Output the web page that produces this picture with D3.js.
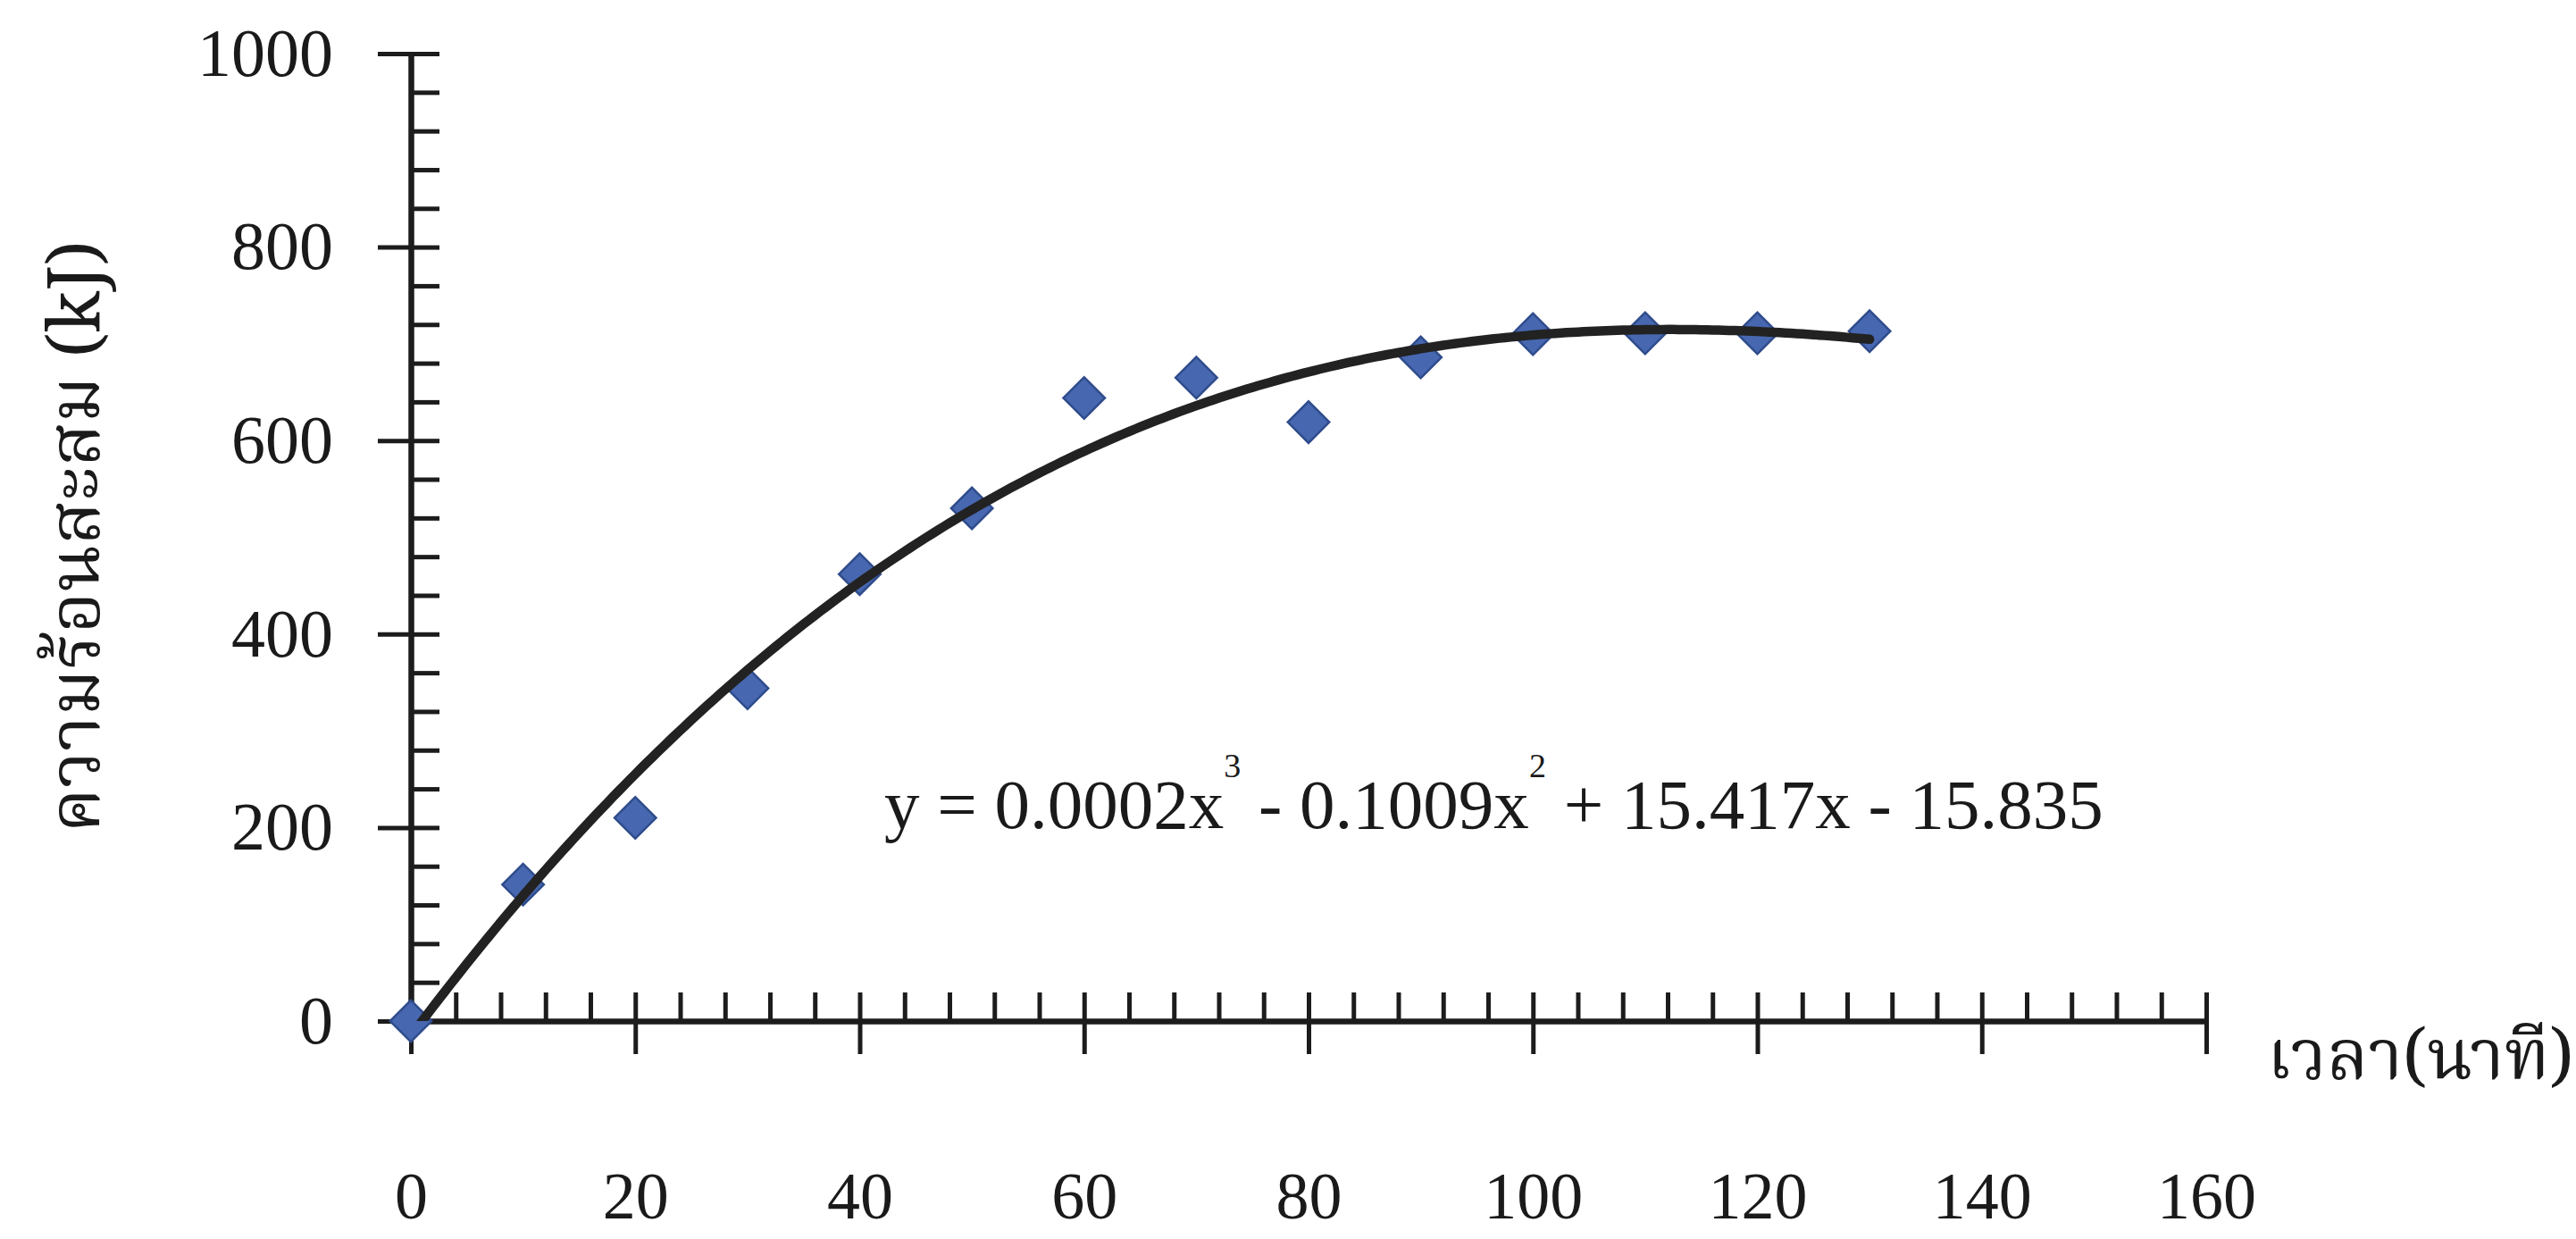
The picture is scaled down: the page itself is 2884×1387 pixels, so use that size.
<!DOCTYPE html>
<html>
<head>
<meta charset="utf-8">
<script src="https://cdn.jsdelivr.net/npm/d3@7/dist/d3.min.js"></script>
<style>
  html, body { margin: 0; padding: 0; background: #ffffff; }
  svg { display: block; }
</style>
</head>
<body>
<svg id="chart" width="2884" height="1387"></svg>
<script>
// ---------------- data ----------------
const timeMinutes = [0, 10, 20, 30, 40, 50, 60, 70, 80, 90, 100, 110, 120, 130];
const heatKJ      = [0, 141, 210, 344, 462, 530, 644, 665, 619, 686, 710, 711, 711, 713];

const xTickValues = [0, 20, 40, 60, 80, 100, 120, 140, 160];
const yTickValues = [0, 200, 400, 600, 800, 1000];

const yAxisTitle = "ความร้อนสะสม (kJ)";
const xAxisTitle = "เวลา(นาที)";
const equationParts = [
  { t: "y = 0.0002x", sup: false },
  { t: "3", sup: true },
  { t: " - 0.1009x", sup: false },
  { t: "2", sup: true },
  { t: " + 15.417x - 15.835", sup: false }
];

// ---------------- layout ----------------
const W = 2884, H = 1387;
const svg = d3.select("#chart");
svg.append("rect").attr("width", W).attr("height", H).attr("fill", "#ffffff");

const x = d3.scaleLinear().domain([0, 160]).range([460, 2470]);
const y = d3.scaleLinear().domain([0, 1000]).range([1143, 60]);

const serif = "'Liberation Serif','Times New Roman',serif";
const thai = "'Noto Serif Thai','Noto Sans Thai','Tlwg Typo','Loma','Garuda','Liberation Serif',serif";
const axisColor = "#1c1c1c";

// minor ticks (inside)
const xMinor = d3.range(0, 161, 4);
const yMinor = d3.range(0, 1001, 40);

const gxMinor = svg.append("g").attr("transform", `translate(0,${y(0)})`)
  .call(d3.axisBottom(x).tickValues(xMinor).tickSize(-32).tickSizeOuter(0).tickFormat(""));
const gyMinor = svg.append("g").attr("transform", `translate(${x(0)},0)`)
  .call(d3.axisLeft(y).tickValues(yMinor).tickSize(-32).tickSizeOuter(0).tickFormat(""));

// major ticks (outside) with labels
const gx = svg.append("g").attr("transform", `translate(0,${y(0)})`)
  .call(d3.axisBottom(x).tickValues(xTickValues).tickSize(37).tickSizeOuter(0).tickPadding(131).tickFormat(d3.format("d")));
const gy = svg.append("g").attr("transform", `translate(${x(0)},0)`)
  .call(d3.axisLeft(y).tickValues(yTickValues).tickSize(37).tickSizeOuter(0).tickPadding(50).tickFormat(d3.format("d")));

[gxMinor, gyMinor, gx, gy].forEach(g => {
  g.selectAll(".domain").attr("stroke", axisColor).attr("stroke-width", 6);
  g.selectAll(".tick line").attr("stroke", axisColor).attr("stroke-width", 5);
  g.selectAll(".tick text").attr("fill", "#1a1a1a").attr("font-family", serif);
});
gx.selectAll(".tick text").attr("font-size", 74);
gy.selectAll(".tick text").attr("font-size", 76);

// ---------------- series markers ----------------
const pts = timeMinutes.map((t, i) => ({ x: t, y: heatKJ[i] }));
const diamond = d3.symbol().type(d3.symbolSquare).size(1080);
svg.append("g").selectAll("path").data(pts).join("path")
  .attr("d", diamond)
  .attr("transform", d => `translate(${x(d.x)},${y(d.y)}) rotate(45)`)
  .attr("fill", "#4767b0")
  .attr("stroke", "#2f4c8c")
  .attr("stroke-width", 2.5);

// ---------------- cubic trendline (least squares fit of the series) ----------------
function polyFit(xs, ys, deg) {
  const n = deg + 1;
  const A = Array.from({ length: n }, () => new Array(n + 1).fill(0));
  for (let k = 0; k < xs.length; k++) {
    for (let i = 0; i < n; i++) {
      for (let j = 0; j < n; j++) A[i][j] += Math.pow(xs[k], i + j);
      A[i][n] += ys[k] * Math.pow(xs[k], i);
    }
  }
  for (let c = 0; c < n; c++) {
    let p = c;
    for (let r = c + 1; r < n; r++) {
      if (Math.abs(A[r][c]) > Math.abs(A[p][c])) p = r;
    }
    const tmp = A[c]; A[c] = A[p]; A[p] = tmp;
    for (let r = 0; r < n; r++) {
      if (r === c) continue;
      const f = A[r][c] / A[c][c];
      for (let k = c; k <= n; k++) A[r][k] -= f * A[c][k];
    }
  }
  return A.map((row, i) => row[n] / row[i]);
}
const coef = polyFit(timeMinutes, heatKJ, 3);
const fitY = t => coef[0] + coef[1] * t + coef[2] * t * t + coef[3] * t * t * t;
const curveX = d3.range(0, d3.max(timeMinutes) + 0.001, 0.5);

svg.append("clipPath").attr("id", "plotClip").append("rect")
  .attr("x", x(0)).attr("y", y(1000)).attr("width", x(160) - x(0)).attr("height", y(0) - y(1000));

svg.append("path")
  .datum(curveX)
  .attr("clip-path", "url(#plotClip)")
  .attr("fill", "none")
  .attr("stroke", "#222222")
  .attr("stroke-width", 10.5)
  .attr("stroke-linecap", "round")
  .attr("d", d3.line().x(d => x(d)).y(d => y(fitY(d))));

// ---------------- equation label ----------------
const eq = svg.append("text")
  .attr("x", 990).attr("y", 927)
  .attr("font-family", serif).attr("font-size", 79).attr("fill", "#1a1a1a");
eq.selectAll("tspan").data(equationParts).join("tspan")
  .attr("font-size", d => d.sup ? 38 : 79)
  .attr("dy", (d, i) => d.sup ? -57 : (i > 0 ? 57 : 0))
  .style("white-space", "pre")
  .text(d => d.t);

// ---------------- axis titles ----------------
svg.append("text")
  .attr("transform", `translate(111,601) rotate(-90)`)
  .attr("text-anchor", "middle")
  .attr("font-family", thai).attr("font-size", 80).attr("fill", "#1a1a1a")
  .text(yAxisTitle);

svg.append("text")
  .attr("x", 2538).attr("y", 1208)
  .attr("font-family", thai).attr("font-size", 78).attr("fill", "#1a1a1a")
  .text(xAxisTitle);
</script>
</body>
</html>
